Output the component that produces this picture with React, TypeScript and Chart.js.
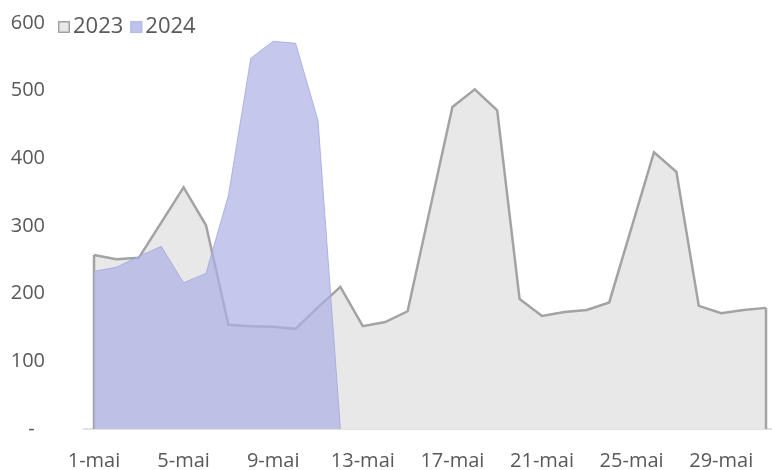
import React, { useEffect, useRef } from "react";
import { Chart, registerables } from "chart.js";

Chart.register(...registerables);

const categories: string[] = Array.from({ length: 31 }, (_, i) => `${i + 1}-mai`);

const series2023: (number | null)[] = [
  257, 251, 253, 305, 357, 301, 154, 152, 151, 148, 180, 210, 152, 158, 174, 325,
  476, 502, 471, 192, 167, 173, 176, 187, 298, 409, 380, 182, 171, 176, 179,
];

const series2024: (number | null)[] = [
  233, 239, 255, 270, 216, 230, 345, 548, 573, 570, 456, 0,
  null, null, null, null, null, null, null, null, null, null, null, null, null,
  null, null, null, null, null, null,
];

const yTicks: number[] = [0, 100, 200, 300, 400, 500, 600];

const seriesNames = ["2023", "2024"];
const FONT = "'Open Sans', 'DejaVu Sans', sans-serif";
const TEXT = "#595959";

const GRAY_FILL = "#e8e8e8";
const GRAY_LINE = "#a3a3a3";
const BLUE_FILL = "rgba(172,177,228,0.7)";
const BLUE_LINE = "rgba(160,166,222,0.8)";
const AXIS_LINE = "#d9d9d9";

export default function App() {
  const ref = useRef<HTMLCanvasElement | null>(null);

  useEffect(() => {
    if (!ref.current) return;

    const axisPlugin = {
      id: "axisLine",
      beforeDatasetsDraw(chart: any) {
        const xs = chart.scales.x;
        const y0 = chart.scales.y.getPixelForValue(0);
        const half = (xs.getPixelForValue(1) - xs.getPixelForValue(0)) / 2;
        const ctx = chart.ctx;
        ctx.save();
        ctx.strokeStyle = AXIS_LINE;
        ctx.lineWidth = 1.5;
        ctx.beginPath();
        ctx.moveTo(xs.getPixelForValue(0) - half, y0);
        ctx.lineTo(chart.width, y0);
        ctx.stroke();
        ctx.restore();
      },
    };

    const edgePlugin = {
      id: "edges",
      afterDatasetDraw(chart: any, args: any) {
        if (args.index !== 0) return;
        const meta = chart.getDatasetMeta(0);
        const pts = meta.data;
        if (!pts.length) return;
        const y0 = chart.scales.y.getPixelForValue(0);
        const ctx = chart.ctx;
        ctx.save();
        ctx.strokeStyle = GRAY_LINE;
        ctx.lineWidth = 2.5;
        const first = pts[0];
        const last = pts[pts.length - 1];
        ctx.beginPath();
        ctx.moveTo(first.x, first.y);
        ctx.lineTo(first.x, y0);
        ctx.moveTo(last.x, last.y);
        ctx.lineTo(last.x, y0);
        ctx.stroke();
        ctx.restore();
      },
    };

    const legendPlugin = {
      id: "customLegend",
      afterDraw(chart: any) {
        const ctx = chart.ctx;
        ctx.save();
        ctx.font = `22px ${FONT}`;
        ctx.textBaseline = "middle";
        ctx.textAlign = "left";
        const cy = 27;
        let x = 58;
        const styles = [
          { fill: GRAY_FILL, stroke: GRAY_LINE },
          { fill: "rgb(192,196,235)", stroke: "rgb(182,187,231)" },
        ];
        seriesNames.forEach((name, i) => {
          ctx.fillStyle = styles[i].fill;
          ctx.fillRect(x, cy - 6, 12, 12);
          ctx.strokeStyle = styles[i].stroke;
          ctx.lineWidth = 1.5;
          ctx.strokeRect(x + 0.75, cy - 5.25, 10.5, 10.5);
          x += 15;
          ctx.fillStyle = TEXT;
          ctx.fillText(name, x, cy);
          x += ctx.measureText(name).width + 7;
        });
        ctx.restore();
      },
    };

    const chart = new Chart(ref.current, {
      type: "line",
      data: {
        labels: categories,
        datasets: [
          {
            label: seriesNames[0],
            data: series2023,
            fill: "origin",
            backgroundColor: GRAY_FILL,
            borderColor: GRAY_LINE,
            borderWidth: 2.5,
            pointRadius: 0,
            tension: 0,
            order: 2,
          },
          {
            label: seriesNames[1],
            data: series2024,
            fill: "origin",
            backgroundColor: BLUE_FILL,
            borderColor: BLUE_LINE,
            borderWidth: 1,
            pointRadius: 0,
            tension: 0,
            spanGaps: false,
            order: 1,
          },
        ],
      },
      options: {
        animation: false,
        responsive: false,
        maintainAspectRatio: false,
        devicePixelRatio: 1,
        layout: { padding: { top: 23, right: 6, left: 0, bottom: 0 } },
        plugins: {
          legend: { display: false },
          tooltip: { enabled: false },
        },
        scales: {
          x: {
            type: "category",
            offset: false,
            grid: { display: false, drawTicks: false },
            border: { display: false },
            ticks: {
              autoSkip: false,
              maxRotation: 0,
              padding: 20,
              color: TEXT,
              font: { family: FONT, size: 20 },
              callback: (_v: any, i: number) => (i % 4 === 0 ? categories[i] : ""),
            },
            afterFit: (s: any) => {
              s.height = 41;
              s.paddingLeft = 0;
              s.paddingRight = 0;
              s.paddingTop = 0;
              s.paddingBottom = 0;
            },
          },
          y: {
            min: 0,
            max: 600,
            afterBuildTicks: (s: any) => {
              s.ticks = yTicks.map((v) => ({ value: v }));
            },
            grid: { display: false, drawTicks: false },
            border: { display: false },
            ticks: {
              padding: 49,
              color: TEXT,
              font: { family: FONT, size: 20 },
              callback: (v: any) => (Number(v) === 0 ? "-  " : String(v)),
            },
            afterFit: (s: any) => {
              s.width = 94;
              s.paddingTop = 0;
              s.paddingBottom = 0;
              s.paddingLeft = 0;
              s.paddingRight = 0;
            },
          },
        },
      },
      plugins: [axisPlugin, edgePlugin, legendPlugin],
    });

    return () => chart.destroy();
  }, []);

  return (
    <div style={{ position: "absolute", left: 0, top: 0, width: 772, height: 470, background: "#fff" }}>
      <canvas ref={ref} width={772} height={470} style={{ display: "block", width: 772, height: 470 }} />
    </div>
  );
}
